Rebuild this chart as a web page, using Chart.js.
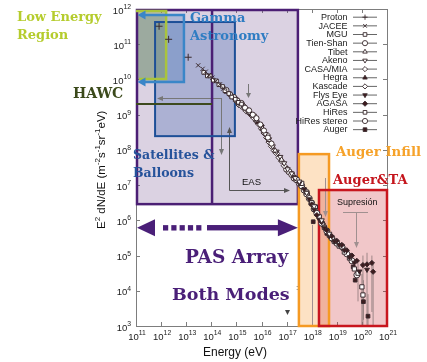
<!DOCTYPE html>
<html><head><meta charset="utf-8">
<script src="https://cdn.jsdelivr.net/npm/chart.js@4.4.1/dist/chart.umd.min.js"></script>
<style>html,body{margin:0;padding:0;background:#fff;overflow:hidden}canvas{display:block}</style>
</head><body>
<canvas id="c" width="427" height="362"></canvas>
<script>
// ---- tick labels (powers of ten) ----
const xTickExponents = [11,12,13,14,15,16,17,18,19,20,21];
const yTickExponents = [3,4,5,6,7,8,9,10,11,12];

// ---- series (energy in eV, E^2 dN/dE in m^-2 s^-1 sr^-1 eV) ----
const seriesNames = ['Proton','JACEE','MGU','Tien-Shan','Tibet','Akeno','CASA/MIA','Hegra','Kascade','Flys Eye','AGASA','HiRes','HiRes stereo','Auger'];
const protonEnergy = [8.3e11, 2.0e12, 1.2e13];
const protonFlux   = [3.24e11, 1.38e11, 4.27e10];
const jaceeEnergy = [3e13,4.5e13,6e13,8e13,1.1e14,1.5e14,2.2e14,3e14];
const jaceeFlux   = [2.51e10,2.0e10,1.66e10,1.32e10,1.12e10,8.91e9,7.24e9,5.5e9];
const mguEnergy = [5e13,7e13,9e13,1.2e14,1.6e14,2e14,2.8e14,3.5e14,5e14,6.5e14,9e14,1.2e15,1.6e15];
const mguFlux   = [1.58e10,1.26e10,1.26e10,9.55e9,9.1e9,7.08e9,6.31e9,4.79e9,3.98e9,3.16e9,2.75e9,2.24e9,2.0e9];
const tienShanEnergy = [4e14,5.6e14,8e14,1.1e15,1.6e15,2.2e15,3.2e15,4.5e15,6.3e15,9e15,1.25e16,1.8e16,2.5e16];
const tienShanFlux   = [5.0e9,3.8e9,3.16e9,2.51e9,2.14e9,1.58e9,1.32e9,1.0e9,7.94e8,5.25e8,3.55e8,2.24e8,1.51e8];
const tibetEnergy = [6.3e14,1.1e15,2e15,3.5e15,6.3e15,1.1e16,2e16,3.5e16,6.3e16];
const tibetFlux   = [3.55e9,2.51e9,1.78e9,1.12e9,6.92e8,3.98e8,1.91e8,9.55e7,5.25e7];
const akenoEnergy = [1.25e15,2.5e15,5e15,1e16,1.4e16,2e16,2.8e16,4e16,5.6e16,8e16,1.1e17,1.6e17,2.2e17,3.2e17,6.3e17,1.25e18,2.5e18,5e18];
const akenoFlux   = [2.24e9,1.41e9,9.33e8,4.47e8,2.82e8,2.0e8,1.26e8,8.91e7,6.31e7,4.17e7,2.82e7,2.14e7,1.58e7,1.26e7,6.03e6,2.51e6,1.0e6,4.17e5];
const casaEnergy = [1e15,1.8e15,3.2e15,5.6e15,1e16,1.8e16];
const casaFlux   = [2.82e9,1.91e9,1.2e9,8.32e8,5.01e8,2.63e8];
const hegraEnergy = [4e14,7e14,1.25e15,2.2e15,4e15,7e15];
const hegraFlux   = [4.47e9,3.16e9,2.09e9,1.51e9,1.0e9,6.03e8];
const kascadeEnergy = [1e15,1.25e15,1.6e15,2e15,2.5e15,3.2e15,4e15,5e15,6.3e15,8e15,1e16,1.25e16,1.6e16,2e16,2.5e16,3.2e16,4e16,5e16,6.3e16,8e16];
const kascadeFlux   = [2.4e9,1.91e9,1.74e9,1.51e9,1.26e9,1.12e9,9.55e8,7.94e8,6.61e8,5.25e8,3.98e8,3.02e8,2.24e8,1.66e8,1.26e8,9.55e7,7.94e7,6.03e7,4.79e7,3.55e7];
const flysEyeEnergy = [2e17,3.2e17,5e17,8e17,1.25e18,2e18,3.2e18,5e18,8e18,1.25e19,2e19,3.2e19,5e19,8e19,1.6e20];
const flysEyeFlux   = [1.66e7,1.12e7,7.59e6,3.98e6,2.0e6,1.05e6,6.03e5,3.55e5,2.51e5,2.0e5,1.41e5,8.91e4,6.31e4,3.55e4,3.98e4];
const agasaEnergy = [1e18,1.6e18,2.5e18,4e18,6.3e18,1e19,1.6e19,2.5e19,4e19,6.3e19,1.1e20,1.6e20,2.5e20,2.8e20];
const agasaFlux   = [2.82e6,1.41e6,8.91e5,5.25e5,3.55e5,2.63e5,2.0e5,1.41e5,1.0e5,7.08e4,5.37e4,5.62e4,6.17e4,3.47e4];
const hiresEnergy = [4e17,6.3e17,1e18,1.4e18,2e18,3.2e18,5e18,8e18,1.25e19,2e19,3.2e19,5e19,7e19,1e20,1.1e20];
const hiresFlux   = [1.12e7,6.31e6,3.16e6,2.4e6,1.26e6,6.31e5,3.8e5,2.51e5,1.86e5,1.26e5,8.51e4,4.17e4,3.16e4,1.29e4,7.59e3];
const hiresStereoEnergy = [1e17,1.25e17,1.6e17,2e17,2.5e17,3.2e17,4e17,5e17,6.3e17,8e17,1e18,1.25e18,1.6e18,2.5e18,4e18,6.3e18,1e19,1.6e19,2.5e19,4e19,6.3e19];
const hiresStereoFlux   = [2.82e7,2.4e7,2.0e7,1.58e7,1.41e7,1.12e7,9.55e6,7.24e6,5.62e6,4.17e6,3.02e6,2.09e6,1.58e6,8.32e5,5.01e5,3.16e5,2.24e5,1.78e5,1.12e5,7.08e4,2.82e4];
const augerEnergy = [1.15e18,2.9e18,4e18,7.2e18,1.8e19,3.2e19,4.5e19,5.4e19,1.15e20,1.75e20];
const augerFlux   = [9.12e5,7.41e5,4.27e5,2.75e5,1.58e5,1.0e5,4.79e4,2.0e4,4.9e3,1.9e3];

// error bars at the highest energies
const errorEnergy = [1.6e20,1.1e20,2.5e20,2.8e20,1e20,7e19,1.75e20,1.15e20];
const errorLow    = [1e3,1e3,2.5e3,1e3,1e3,5e3,1e3,1.5e3];
const errorHigh   = [1.2e5,1.0e5,1.0e5,6e4,3e4,6e4,8e3,2e4];

const energies = [protonEnergy,jaceeEnergy,mguEnergy,tienShanEnergy,tibetEnergy,akenoEnergy,casaEnergy,hegraEnergy,kascadeEnergy,flysEyeEnergy,agasaEnergy,hiresEnergy,hiresStereoEnergy,augerEnergy];
const fluxes   = [protonFlux,jaceeFlux,mguFlux,tienShanFlux,tibetFlux,akenoFlux,casaFlux,hegraFlux,kascadeFlux,flysEyeFlux,agasaFlux,hiresFlux,hiresStereoFlux,augerFlux];

// ---- marker styles ----
const DARK = '#3a2a2e', FILL = '#3d1b1e';
const markerStyles = [
  {s:'cross', r:3.5, f:false, rot:0},
  {s:'crossRot', r:3, f:false, rot:0},
  {s:'rect', r:2.6, f:false, rot:0},
  {s:'circle', r:2.6, f:false, rot:0},
  {s:'triangle', r:3, f:false, rot:0},
  {s:'triangle', r:3, f:false, rot:180},
  {s:'rectRot', r:2.6, f:false, rot:0},
  {s:'triangle', r:2.8, f:true, rot:0},
  {s:'rectRot', r:3, f:false, rot:0},
  {s:'triangle', r:2.8, f:true, rot:180},
  {s:'rectRot', r:2.6, f:true, rot:0},
  {s:'rect', r:3, f:false, rot:0},
  {s:'circle', r:3, f:false, rot:0},
  {s:'rect', r:2.6, f:true, rot:0}
];

const datasets = seriesNames.map((name,i)=>({
  label: name,
  data: energies[i].map((e,j)=>({x:e, y:fluxes[i][j]})),
  pointStyle: markerStyles[i].s,
  pointRadius: markerStyles[i].r,
  pointRotation: markerStyles[i].rot,
  borderColor: DARK,
  pointBorderColor: DARK,
  backgroundColor: markerStyles[i].f ? FILL : '#ffffff',
  pointBackgroundColor: markerStyles[i].f ? FILL : '#ffffff',
  borderWidth: 1,
  showLine: false
}));

// ---- overlay regions (log10 of energy / flux) ----
const regions = {
  pas:      {e0:11, e1:17.45, f0:6.46, f1:12, split:14.03},
  gamma:    {e0:11.76, e1:14.94, f0:8.39, f1:11.63},
  lowBlue:  {e0:11.06, e1:12.91, f0:9.93, f1:11.83},
  lowGreen: {e0:11, e1:12.2, f0:10.01, f1:11.94},
  hawc:     {e0:11, e1:14.03, f:9.30},
  infill:   {e0:17.49, e1:18.69, f0:3, f1:7.88},
  augerTA:  {e0:18.29, e1:21, f0:3, f1:6.86},
  arrow:    {e0:11.04, e1:17.45, f:5.79}
};

function arrowHead(ctx, tx, ty, dir, len, half){
  ctx.beginPath();
  if(dir==='left'){ctx.moveTo(tx,ty);ctx.lineTo(tx+len,ty-half);ctx.lineTo(tx+len,ty+half);}
  if(dir==='right'){ctx.moveTo(tx,ty);ctx.lineTo(tx-len,ty-half);ctx.lineTo(tx-len,ty+half);}
  if(dir==='down'){ctx.moveTo(tx,ty);ctx.lineTo(tx-half,ty-len);ctx.lineTo(tx+half,ty-len);}
  if(dir==='up'){ctx.moveTo(tx,ty);ctx.lineTo(tx-half,ty+len);ctx.lineTo(tx+half,ty+len);}
  ctx.closePath();ctx.fill();
}

const overlayPlugin = {
  id:'overlay',
  beforeDatasetsDraw(chart){
    const ctx = chart.ctx, xs = chart.scales.x, ys = chart.scales.y, a = chart.chartArea;
    const X = e => xs.getPixelForValue(Math.pow(10,e));
    const Y = f => ys.getPixelForValue(Math.pow(10,f));
    ctx.save();
    // frame and ticks
    ctx.strokeStyle='#7d7d7d'; ctx.lineWidth=1;
    ctx.strokeRect(Math.round(a.left)+0.5, Math.round(a.top)+0.5, Math.round(a.right-a.left), Math.round(a.bottom-a.top));
    xTickExponents.forEach(e=>{const x=Math.round(X(e))+0.5;ctx.beginPath();ctx.moveTo(x,a.bottom);ctx.lineTo(x,a.bottom-4);ctx.moveTo(x,a.top);ctx.lineTo(x,a.top+4);ctx.stroke();});
    yTickExponents.forEach(f=>{const y=Math.round(Y(f))+0.5;ctx.beginPath();ctx.moveTo(a.left,y);ctx.lineTo(a.left+4,y);ctx.moveTo(a.right,y);ctx.lineTo(a.right-4,y);ctx.stroke();});

    const rect = (r)=>[X(r.e0),Y(r.f1),X(r.e1)-X(r.e0),Y(r.f0)-Y(r.f1)];
    // fills
    ctx.fillStyle='rgba(110,75,140,0.25)'; ctx.fillRect(...rect(regions.pas));
    ctx.fillStyle='rgba(40,80,170,0.26)'; ctx.fillRect(...rect(regions.gamma));
    ctx.fillStyle='rgba(50,110,180,0.27)'; ctx.fillRect(...rect(regions.lowBlue));
    ctx.fillStyle='rgba(125,150,70,0.38)'; ctx.fillRect(...rect(regions.lowGreen));
    ctx.fillStyle='rgba(250,160,60,0.30)'; ctx.fillRect(...rect(regions.infill));
    ctx.fillStyle='rgba(200,30,40,0.25)'; ctx.fillRect(...rect(regions.augerTA));

    // gray annotations of the original plot
    ctx.strokeStyle='#777'; ctx.fillStyle='#777'; ctx.lineWidth=1;
    ctx.beginPath(); ctx.moveTo(221,98.5); ctx.lineTo(162,98.5); ctx.moveTo(221.5,98); ctx.lineTo(221.5,150); ctx.stroke();
    arrowHead(ctx,157,98.5,'left',6,2.5); arrowHead(ctx,221.5,155,'down',6,2.5);
    ctx.beginPath(); ctx.moveTo(248.5,84); ctx.lineTo(248.5,93); ctx.stroke(); arrowHead(ctx,248.5,98,'down',5,2.5);
    ctx.strokeStyle='#555'; ctx.fillStyle='#555';
    ctx.beginPath(); ctx.moveTo(229.5,132); ctx.lineTo(229.5,190.5); ctx.lineTo(284,190.5); ctx.stroke();
    arrowHead(ctx,229.5,127,'up',6,2.5); arrowHead(ctx,290,190.5,'right',6,2.5);
    ctx.strokeStyle='#a09090'; ctx.fillStyle='#a09090';
    ctx.beginPath(); ctx.moveTo(325.5,178); ctx.lineTo(325.5,212); ctx.stroke(); arrowHead(ctx,325.5,217,'down',6,2.5);
    ctx.beginPath(); ctx.moveTo(343,212.5); ctx.lineTo(368,212.5); ctx.moveTo(356.5,212); ctx.lineTo(356.5,243); ctx.stroke(); arrowHead(ctx,356.5,248,'down',6,2.5);
    ctx.beginPath(); ctx.moveTo(312.5,225); ctx.lineTo(312.5,326); ctx.stroke();

    // error bars
    ctx.strokeStyle='#8a7777'; ctx.lineWidth=0.8;
    errorEnergy.forEach((e,i)=>{const x=xs.getPixelForValue(e);ctx.beginPath();ctx.moveTo(x,ys.getPixelForValue(errorLow[i]));ctx.lineTo(x,ys.getPixelForValue(errorHigh[i]));ctx.stroke();});

    // region borders
    const p = regions.pas;
    ctx.strokeStyle='#4b1f74'; ctx.lineWidth=2.5;
    ctx.strokeRect(X(p.e0)+1, Y(p.f1)+1, X(p.e1)-X(p.e0)-1, Y(p.f0)-Y(p.f1)-1);
    ctx.beginPath(); ctx.moveTo(X(p.split),Y(p.f1)); ctx.lineTo(X(p.split),Y(p.f0)); ctx.stroke();
    ctx.strokeStyle='#1d4f97'; ctx.lineWidth=2;
    ctx.strokeRect(...rect(regions.gamma));
    ctx.strokeStyle='#3d4a1e'; ctx.lineWidth=2;
    ctx.beginPath(); ctx.moveTo(X(regions.hawc.e0),Y(regions.hawc.f)); ctx.lineTo(X(regions.hawc.e1),Y(regions.hawc.f)); ctx.stroke();
    // green bracket
    const g = regions.lowGreen;
    ctx.strokeStyle='#a9c43c'; ctx.lineWidth=2.5;
    ctx.beginPath(); ctx.moveTo(X(g.e0),Y(g.f1)); ctx.lineTo(X(g.e1),Y(g.f1)); ctx.lineTo(X(g.e1),Y(g.f0)); ctx.lineTo(X(g.e0)+3,Y(g.f0)); ctx.stroke();
    // blue bracket with arrows
    const b = regions.lowBlue;
    ctx.strokeStyle='#3a86c8'; ctx.fillStyle='#3a86c8'; ctx.lineWidth=2.5;
    ctx.beginPath(); ctx.moveTo(X(b.e0)+6,Y(b.f1)); ctx.lineTo(X(b.e1),Y(b.f1)); ctx.lineTo(X(b.e1),Y(b.f0)); ctx.lineTo(X(b.e0)+6,Y(b.f0)); ctx.stroke();
    arrowHead(ctx,X(b.e0),Y(b.f1),'left',8,4.5); arrowHead(ctx,X(b.e0),Y(b.f0),'left',8,4.5);
    // infill and Auger&TA
    ctx.strokeStyle='#f59a23'; ctx.lineWidth=2.5; ctx.strokeRect(...rect(regions.infill));
    ctx.strokeStyle='#c8161e'; ctx.lineWidth=2.5; ctx.strokeRect(...rect(regions.augerTA));
    // PAS double arrow
    const ar = regions.arrow, ay = Y(ar.f), ax0 = X(ar.e0), ax1 = X(ar.e1);
    ctx.fillStyle='#4a1f78';
    arrowHead(ctx,ax0,ay,'left',18,8.5); arrowHead(ctx,ax1,ay,'right',20,8.5);
    [0,1,2,3,4].forEach(k=>ctx.fillRect(ax0+26+k*8.3,ay-2.6,5.2,5.4));
    ctx.fillRect(ax0+70,ay-2.7,ax1-ax0-89,5.4);
    ctx.restore();
  },
  afterDraw(chart){
    const ctx = chart.ctx, xs = chart.scales.x, ys = chart.scales.y;
    ctx.save();
    // tick labels
    ctx.fillStyle='#222'; ctx.textBaseline='alphabetic';
    const base='9.5px "Liberation Sans", Arial, sans-serif', sup='6.8px "Liberation Sans", Arial, sans-serif';
    xTickExponents.forEach(e=>{
      const x=xs.getPixelForValue(Math.pow(10,e));
      ctx.font=base; const w1=ctx.measureText('10').width; ctx.font=sup; const w2=ctx.measureText(String(e)).width;
      const s=x-(w1+w2)/2+1;
      ctx.font=base; ctx.textAlign='left'; ctx.fillText('10',s,340);
      ctx.font=sup; ctx.fillText(String(e),s+w1,335);
    });
    yTickExponents.forEach(f=>{
      const y=ys.getPixelForValue(Math.pow(10,f));
      ctx.font=sup; const w2=ctx.measureText(String(f)).width; ctx.font=base; const w1=ctx.measureText('10').width;
      const s=131-w1-w2;
      ctx.textAlign='left'; ctx.font=base; ctx.fillText('10',s,y+4.5);
      ctx.font=sup; ctx.fillText(String(f),s+w1,y);
    });
    // axis titles
    ctx.font='12px "Liberation Sans", Arial, sans-serif'; ctx.fillStyle='#111';
    ctx.fillText('Energy (eV)',203,356);
    ctx.save(); ctx.translate(105,229); ctx.rotate(-Math.PI/2);
    const parts=[['E',0],['2',1],[' dN/dE (m',0],['-2',1],['s',0],['-1',1],['sr',0],['-1',1],['eV)',0]];
    let px=0;
    parts.forEach(([t,s])=>{ctx.font=s?'8px "Liberation Sans", Arial, sans-serif':'11.5px "Liberation Sans", Arial, sans-serif';ctx.fillText(t,px,s?-5:0);px+=ctx.measureText(t).width;});
    ctx.restore();

    // legend
    ctx.font='9px "Liberation Sans", Arial, sans-serif'; ctx.textAlign='right';
    chart.data.datasets.forEach((ds,i)=>{
      const y=16.7+i*8.65;
      ctx.fillStyle='#1a1a1a'; ctx.fillText(ds.label,347.5,y+3.2);
      ctx.strokeStyle='#555'; ctx.lineWidth=0.9;
      ctx.beginPath(); ctx.moveTo(353,y+0.5); ctx.lineTo(377,y+0.5); ctx.stroke();
      ctx.fillStyle=ds.pointBackgroundColor; ctx.strokeStyle=DARK; ctx.lineWidth=0.9;
      Chart.helpers.drawPoint(ctx,{pointStyle:ds.pointStyle,rotation:ds.pointRotation,radius:Math.min(ds.pointRadius,2.6),borderWidth:0.9},365,y+0.5);
    });

    // small annotations of the original plot
    ctx.textAlign='left'; ctx.fillStyle='#111';
    ctx.font='9.5px "Liberation Sans", Arial, sans-serif'; ctx.fillText('EAS',242,185);
    ctx.font='9px "Liberation Sans", Arial, sans-serif'; ctx.fillText('Supresión',337,205);
    ctx.font='8px "Liberation Sans", Arial, sans-serif'; ctx.fillStyle='#444'; ctx.fillText(':',296,290);
    ctx.beginPath(); ctx.moveTo(285,310); ctx.lineTo(290,310); ctx.lineTo(287.5,315); ctx.closePath(); ctx.fill();

    // coloured region labels
    const serif = s => 'bold '+s+'px "DejaVu Serif", serif';
    const label = (t,x,y,s,c)=>{ctx.font=serif(s);ctx.fillStyle=c;ctx.fillText(t,x,y);};
    label('Low Energy',17,21,13,'#b5cc2d'); label('Region',17,39,13,'#b5cc2d');
    label('Gamma',190,22,13,'#2f7dc3'); label('Astronomy',190,40,13,'#2f7dc3');
    label('HAWC',73,98,14,'#3b4a1b');
    label('Satellites &',133,159,12.5,'#26539b'); label('Balloons',133,177,12.5,'#26539b');
    label('Auger Infill',336,156,13.3,'#f6a229');
    label('Auger&TA',333,184,13,'#c5161d');
    label('PAS Array',185,263,18.5,'#4a1f78'); label('Both Modes',172,300,17.5,'#4a1f78');
    ctx.restore();
  }
};

new Chart(document.getElementById('c'),{
  type:'scatter',
  data:{datasets},
  options:{
    responsive:false, animation:false, events:[],
    layout:{padding:{left:136,top:9,right:40,bottom:36}},
    scales:{
      x:{type:'logarithmic',min:1e11,max:1e21,display:false},
      y:{type:'logarithmic',min:1e3,max:1e12,display:false}
    },
    plugins:{legend:{display:false},tooltip:{enabled:false}}
  },
  plugins:[overlayPlugin]
});
</script>
</body></html>
